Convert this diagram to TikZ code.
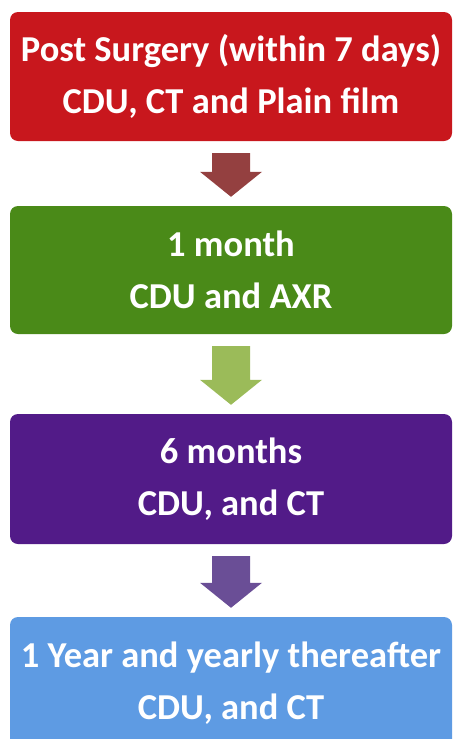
\documentclass[tikz,border=0pt]{standalone}
\usepackage{fontspec}
\setmainfont{Carlito}
\usetikzlibrary{calc}
\definecolor{cred}{HTML}{C8171D}
\definecolor{cgreen}{HTML}{4A8A18}
\definecolor{cpurple}{HTML}{521B88}
\definecolor{cblue}{HTML}{5E9BE3}
\definecolor{ared}{HTML}{944040}
\definecolor{agreen}{HTML}{9BBB59}
\definecolor{apurple}{HTML}{6A4E96}
\tikzset{
  stagetext/.style={text=white, align=center, font=\bfseries\fontsize{36.5}{52}\selectfont},
  stagebox/.style={rounded corners=8pt, minimum width=442pt, inner sep=0pt, stagetext}
}
\newcommand{\blockarr}[3]{%
  \fill[#3] ($(#1.south)+(-19pt,-12pt)$) -- ($(#1.south)+(19pt,-12pt)$)
    -- ($(#2.north)+(19pt,34pt)$) -- ($(#2.north)+(31pt,34pt)$)
    -- ($(#2.north)+(0pt,9pt)$) -- ($(#2.north)+(-31pt,34pt)$)
    -- ($(#2.north)+(-19pt,34pt)$) -- cycle;}
\begin{document}
\begin{tikzpicture}[x=1pt,y=-1pt]
\useasboundingbox (0,0) rectangle (454,739);
\node[stagebox, fill=cred, minimum height=129pt] (b1) at (231,76.5)
  {Post Surgery (within 7 days)\\CDU, CT and Plain film};
\node[stagebox, fill=cgreen, minimum height=128pt] (b2) at (231,270)
  {1 month\\CDU and AXR};
\node[stagebox, fill=cpurple, minimum height=130pt] (b3) at (231,479)
  {6 months\\CDU, and CT};
\node[stagebox, fill=cblue, minimum height=140pt] (b4) at (231,687) {};
\node[stagetext] (t4) at (231,683)
  {1 Year and yearly thereafter\\CDU, and CT};
\blockarr{b1}{b2}{ared}
\blockarr{b2}{b3}{agreen}
\blockarr{b3}{b4}{apurple}
\end{tikzpicture}
\end{document}
